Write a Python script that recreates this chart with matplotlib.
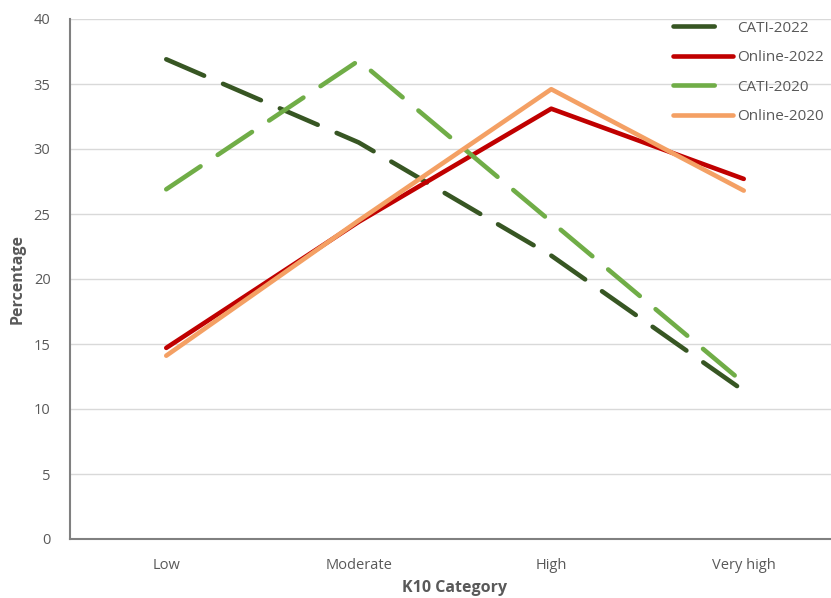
import matplotlib
matplotlib.use("Agg")
import matplotlib.pyplot as plt

categories = ["Low", "Moderate", "High", "Very high"]
cati_2022 = [36.9, 30.5, 21.8, 11.4]
online_2022 = [14.7, 24.4, 33.1, 27.7]
cati_2020 = [26.9, 36.8, 24.4, 12.0]
online_2020 = [14.1, 24.5, 34.6, 26.8]

plt.rcParams['font.family'] = ['Open Sans', 'DejaVu Sans']
fig = plt.figure(figsize=(8.31, 5.98), dpi=100)
W, H = 831, 598
ax = fig.add_axes([70 / W, 1 - 539 / H, (840 - 70) / W, (539 - 19) / H])

x = range(len(categories))
lw = 3.3
dash = (0, (9, 4.5))
ax.plot(x, cati_2022, color="#375623", lw=lw, linestyle=dash, label="CATI-2022", solid_capstyle='round', dash_capstyle='round')
ax.plot(x, online_2022, color="#C00000", lw=lw, label="Online-2022", solid_capstyle='round')
ax.plot(x, cati_2020, color="#70AD47", lw=lw, linestyle=dash, label="CATI-2020", dash_capstyle='round')
ax.plot(x, online_2020, color="#F4A064", lw=lw, label="Online-2020", solid_capstyle='round')

ax.set_xlim(-0.5, 3.5)
ax.set_ylim(0, 40)
ax.set_yticks(range(0, 41, 5))
ax.set_xticks(list(x))
ax.set_xticklabels(categories)
ax.yaxis.grid(True, color="#D9D9D9", lw=1)
ax.set_axisbelow(True)
for s in ["top", "right"]:
    ax.spines[s].set_visible(False)
for s in ["left", "bottom"]:
    ax.spines[s].set_color("#808080")
    ax.spines[s].set_linewidth(1.5)
ax.tick_params(length=0, colors="#595959", labelsize=10.5)
ax.tick_params(axis='x', pad=14)
ax.tick_params(axis='y', pad=14)
ax.set_xlabel("K10 Category", fontsize=11.5, fontweight="bold", color="#595959", labelpad=5)
ax.set_ylabel("Percentage", fontsize=11.5, fontweight="bold", color="#595959", labelpad=6)

leg = ax.legend(loc="upper right", bbox_to_anchor=(838 / W, 1 - 7 / H), bbox_transform=fig.transFigure,
                frameon=False, fontsize=11, handlelength=3.9, handletextpad=0.3, labelspacing=0.95,
                labelcolor="#595959")

fig.savefig("out.png", dpi=100)
